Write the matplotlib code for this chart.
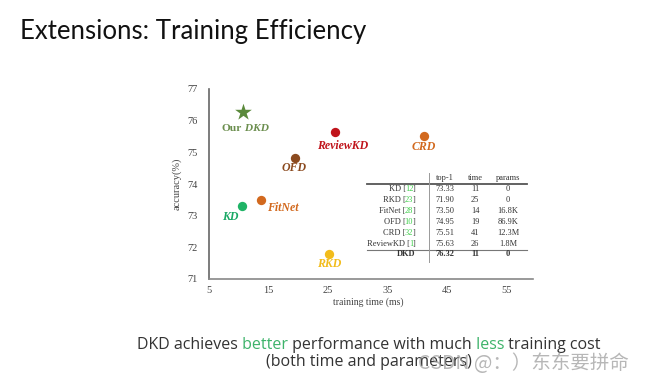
import matplotlib
matplotlib.use('Agg')
import matplotlib.pyplot as plt
from matplotlib import font_manager

W, H = 656, 381

# scatter points
methods = ['Our DKD', 'KD', 'FitNet', 'OFD', 'ReviewKD', 'CRD', 'RKD']
train_time = [10.7, 10.6, 13.7, 19.5, 26.2, 41.2, 25.2]
accuracy = [76.28, 73.30, 73.48, 74.83, 75.63, 75.53, 71.80]
point_colors = ['#5b8a3c', '#1fb366', '#d2691e', '#8b4a1f', '#c0141b', '#d2691e', '#f2bc1b']
label_colors = ['#6b8e4e', '#1aa865', '#d2691e', '#8b4a1f', '#c0141b', '#d2691e', '#f2bc1b']

x_ticks = [5, 15, 25, 35, 45, 55]
y_ticks = [71, 72, 73, 74, 75, 76, 77]

# inset table
tbl_names = ['KD', 'RKD', 'FitNet', 'OFD', 'CRD', 'ReviewKD']
tbl_refs = ['12', '23', '28', '10', '32', '1']
tbl_top1 = ['73.33', '71.90', '73.50', '74.95', '75.51', '75.63']
tbl_time = ['11', '25', '14', '19', '41', '26']
tbl_params = ['0', '0', '16.8K', '86.9K', '12.3M', '1.8M']
dkd_row = ['DKD', '76.32', '11', '0']
tbl_header = ['top-1', 'time', 'params']


def fx(px):
    return px / W


def fy(py):
    return 1 - py / H


installed = {f.name for f in font_manager.fontManager.ttflist}
if 'Liberation Sans Narrow' in installed:
    title_font, title_size = 'Liberation Sans Narrow', 23
else:
    title_font, title_size = 'Lato', 18.5

fig = plt.figure(figsize=(W / 100, H / 100), dpi=100)
fig.patch.set_facecolor('white')

serif = 'Liberation Serif'
sans = 'Open Sans'

ax = fig.add_axes([fx(209), fy(279), fx(533) - fx(209), fy(89) - fy(279)])
ax.set_xlim(5, 59.5)
ax.set_ylim(71, 77)
ax.set_xticks(x_ticks)
ax.set_yticks(y_ticks)
ax.tick_params(length=0, labelsize=7.5, colors='#444444')
ax.tick_params(axis='y', pad=8)
ax.tick_params(axis='x', pad=5)
for lab in ax.get_xticklabels() + ax.get_yticklabels():
    lab.set_fontfamily(serif)
for s in ['top', 'right']:
    ax.spines[s].set_visible(False)
ax.spines['left'].set_color('#666666')
ax.spines['bottom'].set_color('#888888')
ax.spines['left'].set_linewidth(1.2)
ax.spines['bottom'].set_linewidth(1.2)
ax.set_xlabel('training time (ms)', fontfamily=serif, fontsize=7, color='#444444')
ax.set_ylabel('accuracy(%)', fontfamily=serif, fontsize=7.5, color='#444444')
ax.xaxis.set_label_coords((368 - 209) / (533 - 209), -0.095)
ax.yaxis.set_label_coords(-0.085, 0.5)

# points
for i, m in enumerate(methods):
    if m == 'Our DKD':
        ax.scatter(train_time[i], accuracy[i], marker='*', s=160, color=point_colors[i], zorder=3, linewidths=0)
    else:
        ax.scatter(train_time[i], accuracy[i], marker='o', s=45, color=point_colors[i], zorder=3, linewidths=0)

# point labels, offsets in pixels
offsets = {'KD': (-12, -11, 'center'), 'FitNet': (6, -8, 'left'), 'OFD': (-1, -10, 'center'),
           'ReviewKD': (8, -14, 'center'), 'CRD': (0, -11, 'center'), 'RKD': (0, -10, 'center')}
lbl_kw = dict(fontfamily=serif, fontsize=8.6, fontweight='bold', fontstyle='italic')
for i, m in enumerate(methods):
    if m == 'Our DKD':
        t1 = ax.annotate('Our', (train_time[i], accuracy[i]), xytext=(-1, -17), textcoords='offset pixels',
                         ha='right', va='center', color=label_colors[i], fontfamily=serif,
                         fontsize=8.2, fontweight='bold')
        ax.annotate(' DKD', xy=(1, 0), xycoords=t1, ha='left', va='bottom', color=label_colors[i],
                    fontfamily=serif, fontsize=8.2, fontweight='bold', fontstyle='italic')
        continue
    dx, dy, ha = offsets[m]
    ax.annotate(m, (train_time[i], accuracy[i]), xytext=(dx, dy), textcoords='offset pixels',
                ha=ha, va='center', color=label_colors[i], **lbl_kw)

# inset table
fs_t = 6.0
tkw = dict(fontfamily=serif, fontsize=fs_t, color='#333333', va='baseline')
col_x = [445, 475, 508]
row_y = [188.5, 199.5, 210.5, 221.5, 232.5, 243.5]
for j, h in enumerate(tbl_header):
    fig.text(fx(col_x[j]), fy(180.5), h, ha='center', **tkw)
for i in range(len(tbl_names)):
    by = fy(row_y[i] + 2.5)
    t = fig.text(fx(415), by, ']', ha='right', **tkw)
    t = ax.annotate(tbl_refs[i], xy=(0, 0), xycoords=t, xytext=(1, 0), textcoords='offset pixels',
                    ha='right', va='bottom', fontfamily=serif, fontsize=fs_t, color='#3ecf4a')
    ax.annotate(tbl_names[i] + ' [', xy=(0, 0), xycoords=t, xytext=(1, 0), textcoords='offset pixels',
                ha='right', va='bottom', fontfamily=serif, fontsize=fs_t, color='#333333')
    for j, v in enumerate([tbl_top1[i], tbl_time[i], tbl_params[i]]):
        fig.text(fx(col_x[j]), by, v, ha='center', **tkw)
by = fy(256.5)
fig.text(fx(415), by, dkd_row[0], ha='right', fontweight='bold', **tkw)
for j, v in enumerate(dkd_row[1:]):
    fig.text(fx(col_x[j]), by, v, ha='center', fontweight='bold', **tkw)

fig.add_artist(plt.Line2D([fx(367), fx(527)], [fy(184), fy(184)], color='#555555', lw=1.3))
fig.add_artist(plt.Line2D([fx(367), fx(527)], [fy(249.5), fy(249.5)], color='#777777', lw=0.8))
fig.add_artist(plt.Line2D([fx(429), fx(429)], [fy(173), fy(262)], color='#999999', lw=0.7))

# slide title
fig.text(fx(20), fy(39), 'Extensions: Training Efficiency', fontfamily=title_font, fontsize=title_size,
         color='#111111', ha='left', va='baseline')

# caption with coloured words
green = '#3db36a'
parts = [('DKD achieves', '#333333'), (' better', green), (' performance with much', '#333333'),
         (' less', green), (' training cost', '#333333')]
ckw = dict(fontfamily=sans, fontsize=11.5)
prev = fig.text(fx(137), fy(349), parts[0][0], color=parts[0][1], ha='left', va='baseline', **ckw)
for txt, col in parts[1:]:
    prev = ax.annotate(txt, xy=(1, 0), xycoords=prev, ha='left', va='bottom', color=col,
                       annotation_clip=False, **ckw)
fig.text(fx(369), fy(366), '(both time and parameters)', color='#333333', ha='center',
         va='baseline', **ckw)

# watermark
fig.text(fx(418), fy(369), 'CSDN @：）东东要拼命', fontfamily=['Noto Sans CJK SC', 'DejaVu Sans'],
         fontsize=14, color='#999999', alpha=0.7, ha='left', va='baseline')

fig.savefig('out.png', dpi=100, facecolor='white')
